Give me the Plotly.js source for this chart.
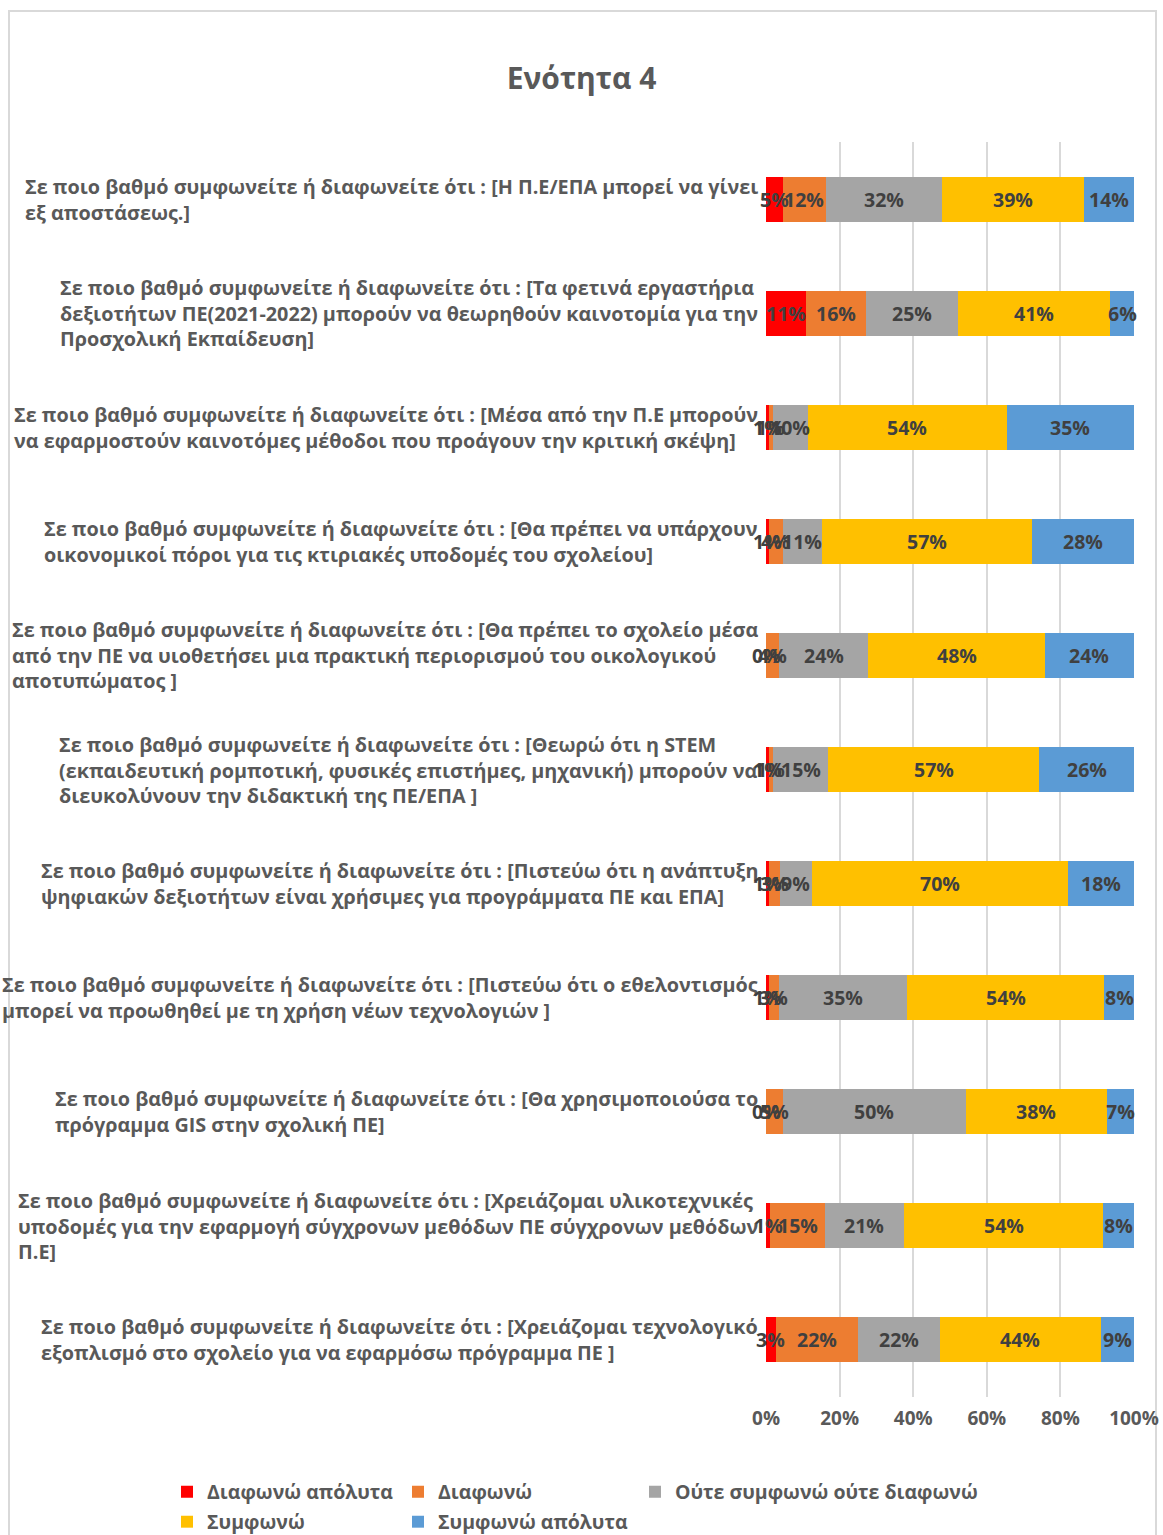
<!DOCTYPE html>
<html>
<head>
<meta charset="utf-8">
<script src="https://cdn.plot.ly/plotly-3.0.1.min.js"></script>
<style>
  html, body { margin: 0; padding: 0; background: #ffffff; overflow: hidden; }
  #frame { position: absolute; left: 8px; top: 10px; width: 1149px; height: 1545px; border: 2px solid #d9d9d9; box-sizing: border-box; }
  #chart { position: absolute; left: 0; top: 0; width: 1163px; height: 1535px; }
</style>
</head>
<body>
<div id="frame"></div>
<div id="chart"></div>
<script>
// ---------------- DATA ----------------
const categories = [
  "Σε ποιο βαθμό συμφωνείτε ή διαφωνείτε ότι : [Η Π.Ε/ΕΠΑ μπορεί να γίνει<br>εξ αποστάσεως.]",
  "Σε ποιο βαθμό συμφωνείτε ή διαφωνείτε ότι : [Τα φετινά εργαστήρια<br>δεξιοτήτων ΠΕ(2021-2022) μπορούν να θεωρηθούν καινοτομία για την<br>Προσχολική Εκπαίδευση]",
  "Σε ποιο βαθμό συμφωνείτε ή διαφωνείτε ότι : [Μέσα από την Π.Ε μπορούν<br>να εφαρμοστούν καινοτόμες μέθοδοι που προάγουν την κριτική σκέψη]",
  "Σε ποιο βαθμό συμφωνείτε ή διαφωνείτε ότι : [Θα πρέπει να υπάρχουν<br>οικονομικοί πόροι για τις κτιριακές υποδομές του σχολείου]",
  "Σε ποιο βαθμό συμφωνείτε ή διαφωνείτε ότι : [Θα πρέπει το σχολείο μέσα<br>από την ΠΕ να υιοθετήσει μια πρακτική περιορισμού του οικολογικού<br>αποτυπώματος ]",
  "Σε ποιο βαθμό συμφωνείτε ή διαφωνείτε ότι : [Θεωρώ ότι η STEM<br>(εκπαιδευτική ρομποτική, φυσικές επιστήμες, μηχανική) μπορούν να<br>διευκολύνουν την διδακτική της ΠΕ/ΕΠΑ ]",
  "Σε ποιο βαθμό συμφωνείτε ή διαφωνείτε ότι : [Πιστεύω ότι η ανάπτυξη<br>ψηφιακών δεξιοτήτων είναι χρήσιμες για προγράμματα ΠΕ και ΕΠΑ]",
  "Σε ποιο βαθμό συμφωνείτε ή διαφωνείτε ότι : [Πιστεύω ότι ο εθελοντισμός<br>μπορεί να προωθηθεί με τη χρήση νέων τεχνολογιών ]",
  "Σε ποιο βαθμό συμφωνείτε ή διαφωνείτε ότι : [Θα χρησιμοποιούσα το<br>πρόγραμμα GIS στην σχολική ΠΕ]",
  "Σε ποιο βαθμό συμφωνείτε ή διαφωνείτε ότι : [Χρειάζομαι υλικοτεχνικές<br>υποδομές για την εφαρμογή σύγχρονων μεθόδων ΠΕ σύγχρονων μεθόδων<br>Π.Ε]",
  "Σε ποιο βαθμό συμφωνείτε ή διαφωνείτε ότι : [Χρειάζομαι τεχνολογικό<br>εξοπλισμό στο σχολείο για να εφαρμόσω πρόγραμμα ΠΕ ]"
];

const seriesNames = ["Διαφωνώ απόλυτα", "Διαφωνώ", "Ούτε συμφωνώ ούτε διαφωνώ", "Συμφωνώ", "Συμφωνώ απόλυτα"];

// percentages
const disagreeStrongly = [4.6, 10.9, 0.8, 0.8, 0.0, 0.8, 0.8, 0.8, 0.0, 1.1, 2.7];
const disagree         = [11.7, 16.3, 1.0, 3.8, 3.6, 1.1, 3.0, 2.7, 4.6, 15.0, 22.3];
const neutral          = [31.5, 25.0, 9.6, 10.6, 24.2, 15.0, 8.7, 34.8, 49.7, 21.3, 22.3];
const agree            = [38.6, 41.4, 54.0, 57.0, 48.0, 57.3, 69.6, 53.6, 38.4, 54.3, 43.7];
const agreeStrongly    = [13.6, 6.4, 34.6, 27.8, 24.2, 25.8, 17.9, 8.1, 7.3, 8.3, 9.0];

const xTickValues = [0, 20, 40, 60, 80, 100];
const xTickLabels = ["0%", "20%", "40%", "60%", "80%", "100%"];

// ---------------- STYLE ----------------
const seriesColors = ["#ff0000", "#ed7d31", "#a5a5a5", "#ffc000", "#5b9bd5"];
const FONT = "Open Sans, Noto Sans, DejaVu Sans, sans-serif";
const allSeries = [disagreeStrongly, disagree, neutral, agree, agreeStrongly];
const legendOf = ["legend", "legend", "legend3", "legend2", "legend2"];

const W = 1163, H = 1535;
const M = { l: 766, r: 29, t: 142, b: 138 };
const plotW = W - M.l - M.r, plotH = H - M.t - M.b;
const pxX = px => (px - M.l) / plotW;          // page px -> paper x
const pxY = py => (H - M.b - py) / plotH;      // page px -> paper y

const traces = allSeries.map((vals, i) => ({
  type: "bar",
  orientation: "h",
  name: seriesNames[i],
  x: vals,
  y: categories,
  marker: { color: seriesColors[i], line: { width: 0 } },
  hoverinfo: "x+name",
  legend: legendOf[i]
}));

const annotations = [];
// category labels (left-aligned blocks ending at the axis)
categories.forEach(c => {
  annotations.push({
    xref: "paper", yref: "y", x: 0, y: c,
    xanchor: "right", yanchor: "middle", xshift: -6,
    align: "left", showarrow: false, text: c,
    font: { family: FONT, size: 19.8, color: "#595959", weight: 700 }
  });
});
// data labels at segment centres
categories.forEach((c, j) => {
  let cum = 0;
  allSeries.forEach(vals => {
    const v = vals[j];
    annotations.push({
      xref: "x", yref: "y", x: cum + v / 2, y: c,
      xanchor: "center", yanchor: "middle", showarrow: false,
      text: Math.round(v) + "%",
      font: { family: FONT, size: 19.5, color: "#404040", weight: 700 }
    });
    cum += v;
  });
});

const legendFont = { family: FONT, size: 19.5, color: "#595959", weight: 700 };
const legendBase = {
  orientation: "h", xanchor: "left", yanchor: "middle",
  font: legendFont, bgcolor: "rgba(0,0,0,0)", traceorder: "normal"
};

const layout = {
  width: W, height: H,
  margin: { l: M.l, r: M.r, t: M.t, b: M.b, autoexpand: false },
  paper_bgcolor: "rgba(0,0,0,0)",
  plot_bgcolor: "rgba(0,0,0,0)",
  barmode: "stack",
  bargap: 0.606,
  title: {
    text: "Ενότητα 4",
    xref: "container", x: 0.5, xanchor: "center",
    yref: "container", y: 1 - 78 / H, yanchor: "middle",
    font: { family: FONT, size: 30, color: "#595959", weight: 700 }
  },
  xaxis: {
    range: [0, 100],
    tickvals: xTickValues, ticktext: xTickLabels,
    showgrid: true, gridcolor: "#d9d9d9", gridwidth: 2,
    zeroline: false, showline: false, ticks: "",
    ticklabelstandoff: 8,
    tickfont: { family: FONT, size: 19, color: "#595959", weight: 700 },
    fixedrange: true
  },
  yaxis: {
    type: "category",
    autorange: "reversed",
    showticklabels: false, showgrid: false, zeroline: false, showline: false, ticks: "",
    fixedrange: true
  },
  showlegend: true,
  legend: Object.assign({}, legendBase, {
    x: pxX(167), y: pxY(1492), entrywidth: 186, entrywidthmode: "pixels"
  }),
  legend3: Object.assign({}, legendBase, {
    x: pxX(635), y: pxY(1492)
  }),
  legend2: Object.assign({}, legendBase, {
    x: pxX(167), y: pxY(1522), entrywidth: 186, entrywidthmode: "pixels"
  }),
  annotations: annotations
};

Plotly.newPlot("chart", traces, layout, { displayModeBar: false });
</script>
</body>
</html>
